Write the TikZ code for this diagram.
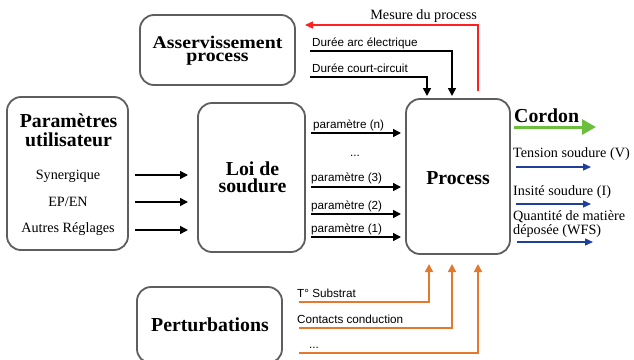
\documentclass[tikz,border=0pt]{standalone}
\usepackage{fontspec}
\usepackage{graphicx}
\setmainfont{Liberation Serif}
\newfontfamily\labelfont{Liberation Sans}
\usetikzlibrary{arrows.meta}
\definecolor{boxgray}{HTML}{5E5E5E}
\definecolor{myred}{HTML}{FF2020}
\definecolor{mygreen}{HTML}{6CBF3E}
\definecolor{myblue}{HTML}{1F3F9F}
\definecolor{myorange}{HTML}{E4782C}
\begin{document}
\begin{tikzpicture}[x=1pt,y=-1pt,
  box/.style={draw=boxgray, line width=1.8pt, rounded corners=14pt, inner sep=0pt},
  ttl/.style={font=\fontsize{19.8}{17}\selectfont\bfseries, align=center, inner sep=0pt},
  itm/.style={font=\fontsize{14.2}{15}\selectfont, inner sep=0pt},
  lbl/.style={font=\labelfont\fontsize{11.7}{13}\selectfont, inner sep=0pt, anchor=west},
  outl/.style={font=\fontsize{14.2}{14.5}\selectfont, inner sep=0pt, anchor=west, align=left},
  blk/.style={line width=1.6pt, -{Triangle[length=8pt,width=8pt]}},
  blu/.style={draw=myblue, line width=1.3pt, -{Triangle[length=8pt,width=7pt]}},
  red/.style={draw=myred, line width=1.4pt, -{Triangle[length=8pt,width=7pt]}},
  org/.style={draw=myorange, line width=1.6pt, -{Triangle[length=8pt,width=8pt]}},
  grn/.style={draw=mygreen, line width=3pt, -{Triangle[length=14pt,width=15pt]}}
]
\path[use as bounding box, clip] (0,0) rectangle (634,359);
\fill[white] (0,0) rectangle (634,359);

% boxes
\node[box, minimum width=155pt, minimum height=70pt] (asv) at (217.5,50) {};
\node[box, minimum width=121pt, minimum height=153pt] (param) at (67.5,173.5) {};
\node[box, minimum width=107pt, minimum height=149pt] (loi) at (251.5,177.5) {};
\node[box, minimum width=104pt, minimum height=155pt] (proc) at (458,176.5) {};
\node[box, minimum width=145pt, minimum height=76pt] (pert) at (209.5,325) {};

% box texts
\node[ttl] (asvt) at (217.5,51)
  {\scalebox{1}[0.9]{\fontsize{19.8}{16}\selectfont\bfseries\begin{tabular}{@{}c@{}}Asservissement\\[-1pt]process\end{tabular}}};
\node[ttl, font=\fontsize{19.8}{19}\selectfont\bfseries] (paramt) at (68.5,130) {Paramètres\\utilisateur};
\node[itm] (syn) at (68,176) {Synergique};
\node[itm] (epen) at (68,202) {EP/EN};
\node[itm] (autres) at (68,229) {Autres Réglages};
\node[ttl] (loit) at (252.5,177) {Loi de\\soudure};
\node[ttl] (proct) at (458,178) {Process};
\node[ttl] (pertt) at (210,325) {Perturbations};

% user params -> loi
\foreach \yy/\nm in {175/a,202/b,230/c}{
  \coordinate (ua\nm) at (135,\yy);
  \coordinate (ub\nm) at (188,\yy);
  \draw[blk] (ua\nm) -- (ub\nm);
}

% loi -> process parameters
\node[lbl] (pn) at (313,125) {paramètre (n)};
\node[lbl, anchor=base] (pdots) at (355,156) {...};
\node[lbl] (p3) at (311,178) {paramètre (3)};
\node[lbl] (p2) at (311,206) {paramètre (2)};
\node[lbl] (p1) at (311,229) {paramètre (1)};
\foreach \yy/\nm in {133/n,187/t,214/d,237/u}{
  \coordinate (ps\nm) at (311,\yy);
  \coordinate (pe\nm) at (401,\yy);
  \draw[blk] (ps\nm) -- (pe\nm);
}

% top feedback
\node[itm, anchor=east] (mes) at (477,16) {Mesure du process};
\coordinate (rs) at (478,91);
\coordinate (re) at (305,25);
\draw[red] (rs) |- (re);
\node[lbl] (arc) at (312,43) {Durée arc électrique};
\node[lbl] (cc) at (312,68) {Durée court-circuit};
\coordinate (arcs) at (310,51);
\coordinate (arce) at (452,96);
\coordinate (ccs) at (310,77);
\coordinate (cce) at (427,96);
\draw[blk] (arcs) -| (arce);
\draw[blk] (ccs) -| (cce);

% outputs
\node[ttl, anchor=west] (cord) at (514,116) {Cordon};
\coordinate (gs) at (514,127);
\coordinate (ge) at (596,127);
\draw[grn] (gs) -- (ge);
\node[outl] (tens) at (513,154) {Tension soudure (V)};
\node[outl] (ins) at (513,192) {Insité soudure (I)};
\node[outl] (wfs) at (513,224) {Quantité de matière\\déposée (WFS)};
\coordinate (ts) at (516,167); \coordinate (te) at (591,167);
\coordinate (is) at (516,204); \coordinate (ie) at (591,204);
\coordinate (ws) at (517,242); \coordinate (we) at (593,242);
\draw[blu] (ts) -- (te);
\draw[blu] (is) -- (ie);
\draw[blu] (ws) -- (we);

% perturbations
\node[lbl] (tsub) at (297,293) {T° Substrat};
\node[lbl] (cont) at (297,319) {Contacts conduction};
\node[lbl, anchor=base west] (odots) at (309,348) {...};
\coordinate (o1s) at (299,302); \coordinate (o1e) at (429,264);
\coordinate (o2s) at (299,328); \coordinate (o2e) at (452,264);
\coordinate (o3s) at (299,353); \coordinate (o3e) at (478,264);
\draw[org] (o1s) -| (o1e);
\draw[org] (o2s) -| (o2e);
\draw[org] (o3s) -| (o3e);
\end{tikzpicture}
\end{document}
